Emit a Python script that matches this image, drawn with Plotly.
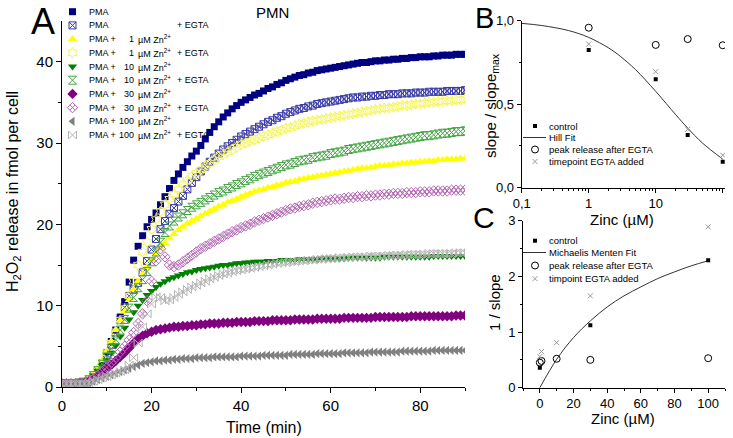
import plotly.graph_objects as go

W, H = 733, 438
FONT = "Liberation Sans, Arial, sans-serif"


def dom_x(a, b):
    return [a / W, b / W]


def dom_y(top, bottom):
    return [1 - bottom / H, 1 - top / H]


# ---------------- panel A: H2O2 release, one reading per minute ----------------
time_min = list(range(0, 91))

pma = [
    0.4, 0.4, 0.4, 0.4, 0.5, 0.6, 0.8, 1.3, 2.0, 3.0,
    4.2, 5.6, 7.0, 8.6, 10.5, 12.9, 15.6, 17.3, 18.6, 19.7,
    20.6, 21.4, 22.4, 23.4, 24.4, 25.4, 26.2, 27.0, 27.7, 28.4,
    29.0, 29.7, 30.5, 31.3, 32.0, 32.6, 33.2, 33.7, 34.2, 34.6,
    35.0, 35.3, 35.6, 35.9, 36.1, 36.4, 36.7, 36.9, 37.2, 37.4,
    37.7, 37.9, 38.1, 38.3, 38.4, 38.6, 38.7, 38.9, 39.0, 39.1,
    39.2, 39.3, 39.4, 39.5, 39.6, 39.7, 39.8, 39.9, 39.9, 40.0,
    40.1, 40.1, 40.2, 40.2, 40.3, 40.3, 40.4, 40.4, 40.5, 40.5,
    40.6, 40.6, 40.6, 40.7, 40.7, 40.8, 40.8, 40.8, 40.9, 40.9, 40.9,
]
pma_egta = [
    0.4, 0.4, 0.4, 0.4, 0.5, 0.6, 0.8, 1.2, 1.9, 2.8,
    3.9, 5.2, 6.6, 8.2, 9.8, 11.2, 12.0, 12.8, 14.1, 15.5,
    16.9, 18.2, 19.4, 20.4, 21.3, 22.0, 22.8, 23.5, 24.3, 25.1,
    25.8, 26.5, 27.1, 27.7, 28.2, 28.7, 29.2, 29.6, 30.0, 30.4,
    30.8, 31.1, 31.4, 31.7, 32.0, 32.3, 32.6, 32.8, 33.1, 33.3,
    33.6, 33.8, 34.0, 34.2, 34.3, 34.5, 34.6, 34.8, 34.9, 35.0,
    35.1, 35.2, 35.3, 35.4, 35.5, 35.6, 35.6, 35.7, 35.7, 35.8,
    35.8, 35.9, 35.9, 36.0, 36.0, 36.0, 36.1, 36.1, 36.1, 36.2,
    36.2, 36.2, 36.3, 36.3, 36.3, 36.3, 36.4, 36.4, 36.4, 36.4, 36.5,
]
zn1 = [
    0.4, 0.4, 0.4, 0.4, 0.5, 0.6, 0.9, 1.5, 2.4, 3.3,
    4.4, 5.6, 7.0, 8.2, 9.3, 10.7, 12.0, 13.0, 13.9, 14.8,
    15.6, 16.4, 17.1, 17.7, 18.3, 18.8, 19.3, 19.7, 20.1, 20.4,
    20.7, 21.0, 21.3, 21.6, 21.9, 22.2, 22.4, 22.7, 22.9, 23.1,
    23.4, 23.6, 23.8, 24.0, 24.2, 24.3, 24.5, 24.6, 24.8, 24.9,
    25.1, 25.2, 25.3, 25.5, 25.6, 25.7, 25.8, 25.9, 26.0, 26.1,
    26.2, 26.3, 26.4, 26.5, 26.6, 26.7, 26.8, 26.9, 26.9, 27.0,
    27.1, 27.2, 27.2, 27.3, 27.4, 27.4, 27.5, 27.5, 27.6, 27.6,
    27.7, 27.7, 27.8, 27.8, 27.9, 27.9, 28.0, 28.0, 28.0, 28.1, 28.1,
]
zn1_egta = [
    0.4, 0.4, 0.4, 0.4, 0.5, 0.6, 0.9, 1.4, 2.2, 3.1,
    4.2, 5.4, 6.8, 8.2, 9.6, 11.2, 13.0, 15.0, 16.6, 17.8,
    19.4, 20.6, 21.6, 22.4, 23.1, 23.7, 24.3, 24.9, 25.4, 25.9,
    26.3, 26.7, 27.1, 27.5, 27.9, 28.3, 28.6, 28.9, 29.2, 29.5,
    29.8, 30.0, 30.2, 30.4, 30.6, 30.8, 31.0, 31.2, 31.4, 31.6,
    31.8, 31.9, 32.1, 32.3, 32.4, 32.6, 32.7, 32.8, 32.9, 33.0,
    33.1, 33.2, 33.3, 33.4, 33.5, 33.6, 33.7, 33.8, 33.9, 34.0,
    34.1, 34.2, 34.3, 34.3, 34.4, 34.5, 34.6, 34.6, 34.7, 34.8,
    34.8, 34.9, 35.0, 35.0, 35.1, 35.1, 35.2, 35.2, 35.3, 35.3, 35.4,
]
zn10 = [
    0.4, 0.4, 0.4, 0.4, 0.5, 0.6, 0.9, 1.4, 2.0, 2.6,
    3.3, 4.2, 5.1, 6.2, 7.3, 8.3, 9.2, 10.0, 10.7, 11.3,
    11.8, 12.3, 12.7, 13.0, 13.3, 13.5, 13.7, 13.9, 14.1, 14.2,
    14.4, 14.5, 14.6, 14.7, 14.8, 14.9, 15.0, 15.0, 15.1, 15.2,
    15.2, 15.3, 15.3, 15.4, 15.4, 15.4, 15.5, 15.5, 15.5, 15.6,
    15.6, 15.6, 15.6, 15.7, 15.7, 15.7, 15.7, 15.7, 15.8, 15.8,
    15.8, 15.8, 15.8, 15.8, 15.9, 15.9, 15.9, 15.9, 15.9, 15.9,
    15.9, 15.9, 16.0, 16.0, 16.0, 16.0, 16.0, 16.0, 16.0, 16.0,
    16.0, 16.0, 16.0, 16.1, 16.1, 16.1, 16.1, 16.1, 16.1, 16.1, 16.1,
]
zn10_egta = [
    0.4, 0.4, 0.4, 0.4, 0.5, 0.6, 0.9, 1.4, 2.0, 2.8,
    3.7, 4.7, 5.8, 7.0, 8.3, 9.7, 11.0, 12.2, 13.2, 14.2,
    15.4, 16.6, 17.8, 19.0, 19.8, 20.4, 20.9, 21.3, 21.7, 22.1,
    22.4, 22.7, 23.0, 23.3, 23.6, 23.9, 24.1, 24.4, 24.6, 24.9,
    25.1, 25.4, 25.6, 25.9, 26.1, 26.3, 26.5, 26.7, 26.9, 27.1,
    27.3, 27.4, 27.6, 27.8, 27.9, 28.0, 28.2, 28.3, 28.4, 28.5,
    28.7, 28.8, 28.9, 29.0, 29.2, 29.3, 29.4, 29.5, 29.6, 29.7,
    29.8, 29.9, 30.0, 30.1, 30.2, 30.3, 30.4, 30.5, 30.6, 30.7,
    30.8, 30.9, 30.9, 31.0, 31.1, 31.2, 31.2, 31.3, 31.4, 31.4, 31.5,
]
zn30 = [
    0.4, 0.4, 0.4, 0.4, 0.5, 0.5, 0.7, 1.0, 1.4, 1.8,
    2.2, 2.7, 3.2, 3.7, 4.2, 4.8, 5.4, 5.9, 6.3, 6.6,
    6.8, 7.0, 7.1, 7.2, 7.3, 7.4, 7.4, 7.5, 7.5, 7.6,
    7.6, 7.7, 7.7, 7.8, 7.8, 7.8, 7.9, 7.9, 7.9, 8.0,
    8.0, 8.0, 8.0, 8.1, 8.1, 8.1, 8.1, 8.2, 8.2, 8.2,
    8.2, 8.2, 8.3, 8.3, 8.3, 8.3, 8.3, 8.4, 8.4, 8.4,
    8.4, 8.4, 8.4, 8.5, 8.5, 8.5, 8.5, 8.5, 8.5, 8.5,
    8.6, 8.6, 8.6, 8.6, 8.6, 8.6, 8.6, 8.6, 8.7, 8.7,
    8.7, 8.7, 8.7, 8.7, 8.7, 8.7, 8.7, 8.7, 8.8, 8.8, 8.8,
]
zn30_egta = [
    0.4, 0.4, 0.4, 0.4, 0.5, 0.5, 0.7, 1.0, 1.4, 1.9,
    2.4, 3.0, 3.6, 4.3, 5.0, 5.8, 6.7, 7.8, 9.0, 10.6,
    13.0, 15.5, 17.0, 16.0, 15.0, 14.8, 15.0, 15.4, 15.8, 16.2,
    16.6, 17.0, 17.3, 17.6, 17.9, 18.2, 18.5, 18.8, 19.1, 19.3,
    19.6, 19.8, 20.0, 20.3, 20.5, 20.7, 20.9, 21.1, 21.3, 21.5,
    21.7, 21.9, 22.0, 22.2, 22.3, 22.4, 22.6, 22.7, 22.8, 22.9,
    23.0, 23.1, 23.1, 23.2, 23.3, 23.3, 23.4, 23.4, 23.5, 23.5,
    23.6, 23.6, 23.7, 23.7, 23.8, 23.8, 23.8, 23.9, 23.9, 23.9,
    24.0, 24.0, 24.0, 24.1, 24.1, 24.1, 24.1, 24.2, 24.2, 24.2, 24.2,
]
zn100 = [
    0.4, 0.4, 0.4, 0.4, 0.4, 0.4, 0.5, 0.7, 0.9, 1.1,
    1.3, 1.5, 1.7, 1.9, 2.1, 2.3, 2.5, 2.7, 2.9, 3.0,
    3.1, 3.2, 3.2, 3.3, 3.3, 3.4, 3.4, 3.5, 3.5, 3.5,
    3.6, 3.6, 3.6, 3.6, 3.7, 3.7, 3.7, 3.7, 3.7, 3.7,
    3.8, 3.8, 3.8, 3.8, 3.8, 3.9, 3.9, 3.9, 3.9, 3.9,
    3.9, 4.0, 4.0, 4.0, 4.0, 4.0, 4.0, 4.1, 4.1, 4.1,
    4.1, 4.1, 4.1, 4.2, 4.2, 4.2, 4.2, 4.2, 4.2, 4.3,
    4.3, 4.3, 4.3, 4.3, 4.3, 4.3, 4.4, 4.4, 4.4, 4.4,
    4.4, 4.4, 4.4, 4.5, 4.5, 4.5, 4.5, 4.5, 4.5, 4.5, 4.5,
]
zn100_egta = [
    0.4, 0.4, 0.4, 0.4, 0.4, 0.4, 0.5, 0.7, 0.9, 1.1,
    1.3, 1.5, 1.7, 1.9, 2.1, 2.7, 3.6, 5.4, 7.4, 9.0,
    10.2, 11.1, 11.0, 10.6, 10.7, 11.0, 11.4, 11.7, 12.0, 12.3,
    12.5, 12.8, 13.0, 13.3, 13.5, 13.7, 13.9, 14.0, 14.2, 14.3,
    14.4, 14.5, 14.6, 14.7, 14.8, 14.9, 15.0, 15.1, 15.2, 15.3,
    15.3, 15.4, 15.4, 15.5, 15.5, 15.6, 15.6, 15.7, 15.7, 15.8,
    15.8, 15.8, 15.9, 15.9, 15.9, 16.0, 16.0, 16.0, 16.0, 16.1,
    16.1, 16.1, 16.1, 16.2, 16.2, 16.2, 16.2, 16.3, 16.3, 16.3,
    16.3, 16.3, 16.4, 16.4, 16.4, 16.4, 16.4, 16.4, 16.5, 16.5, 16.5,
]

legend_prefix = ["PMA", "PMA", "PMA +", "PMA +", "PMA +", "PMA +", "PMA +", "PMA +", "PMA +", "PMA +"]
legend_conc = ["", "", "1", "1", "10", "10", "30", "30", "100", "100"]
legend_egta = [False, True, False, True, False, True, False, True, False, True]

series_a = [pma, pma_egta, zn1, zn1_egta, zn10, zn10_egta, zn30, zn30_egta, zn100, zn100_egta]
for s in series_a:
    assert len(s) == len(time_min)

# marker style per series (symbol, colour, size, outline width)
styles_a = [
    ("square", "#000080", 7, 0),
    ("square-x-open", "#3a3aa6", 7, 1),
    ("triangle-up", "#ffff00", 8, 0),
    ("hexagram-open", "#f5f55a", 8, 1),
    ("triangle-down", "#008000", 8, 0),
    ("hourglass-open", "#44a444", 8, 1),
    ("diamond", "#800080", 8, 0),
    ("diamond-x-open", "#b466b4", 8, 1),
    ("triangle-left", "#808080", 8, 0),
    ("bowtie-open", "#b4b4b4", 8, 1),
]

# ---------------- panel B: slope / slope_max vs zinc ----------------
zinc_b = [1, 10, 30, 100]
control_b = [0.825, 0.65, 0.315, 0.156]
peak_b = [0.958, 0.855, 0.89, 0.853]
timepoint_b = [0.86, 0.695, 0.35, 0.195]
hill_x = [0.1, 0.2, 0.5, 1, 2, 3, 5, 10, 20, 30, 50, 100]
hill_y = [0.984, 0.971, 0.941, 0.900, 0.836, 0.785, 0.707, 0.577, 0.436, 0.357, 0.267, 0.171]

# ---------------- panel C: 1 / slope vs zinc ----------------
zinc_c_control = [0, 30, 100]
control_c = [0.36, 1.12, 2.29]
zinc_c = [0, 1, 10, 30, 100]
peak_c = [0.45, 0.48, 0.52, 0.50, 0.53]
timepoint_c = [0.56, 0.65, 0.81, 1.65, 2.89]
mm_x = [0, 10, 20, 30, 40, 50, 60, 70, 80, 90, 100]
mm_y = [0, 0.51, 0.90, 1.20, 1.45, 1.65, 1.81, 1.96, 2.08, 2.19, 2.28]

fig = go.Figure()

for vals, st in zip(series_a, styles_a):
    sym, col, size, lw = st
    fig.add_trace(go.Scatter(
        x=time_min, y=vals, mode="markers", xaxis="x", yaxis="y",
        marker=dict(symbol=sym, color=col, size=size, line=dict(color=col, width=lw)),
        showlegend=False,
    ))

# panel B
fig.add_trace(go.Scatter(x=hill_x, y=hill_y, mode="lines", line=dict(color="#333333", width=1, shape="spline"),
                         xaxis="x2", yaxis="y2", showlegend=False))
fig.add_trace(go.Scatter(x=zinc_b, y=control_b, mode="markers", marker=dict(symbol="square", size=4, color="black"),
                         xaxis="x2", yaxis="y2", showlegend=False))
fig.add_trace(go.Scatter(x=zinc_b, y=peak_b, mode="markers",
                         marker=dict(symbol="circle-open", size=7, color="black", line=dict(width=1)),
                         xaxis="x2", yaxis="y2", showlegend=False))
fig.add_trace(go.Scatter(x=zinc_b, y=timepoint_b, mode="markers",
                         marker=dict(symbol="x-thin-open", size=5, color="#999999", line=dict(width=1, color="#999999")),
                         xaxis="x2", yaxis="y2", showlegend=False))

# panel C
fig.add_trace(go.Scatter(x=mm_x, y=mm_y, mode="lines", line=dict(color="#333333", width=1, shape="spline"),
                         xaxis="x3", yaxis="y3", showlegend=False))
fig.add_trace(go.Scatter(x=zinc_c_control, y=control_c, mode="markers", marker=dict(symbol="square", size=4, color="black"),
                         xaxis="x3", yaxis="y3", showlegend=False))
fig.add_trace(go.Scatter(x=zinc_c, y=peak_c, mode="markers",
                         marker=dict(symbol="circle-open", size=7, color="black", line=dict(width=1)),
                         xaxis="x3", yaxis="y3", showlegend=False))
fig.add_trace(go.Scatter(x=zinc_c, y=timepoint_c, mode="markers",
                         marker=dict(symbol="x-thin-open", size=5, color="#999999", line=dict(width=1, color="#999999")),
                         xaxis="x3", yaxis="y3", showlegend=False))

# ---------------- hand-made legends on a pixel overlay (x4/y4, screen pixels) ----------------
annotations = []


def text(x, y, s, size=9.5, anchor="left", angle=0):
    annotations.append(dict(x=x, y=y, xref="x4", yref="y4", text=s, showarrow=False,
                            xanchor=anchor, yanchor="middle", textangle=angle, borderpad=0,
                            font=dict(family=FONT, size=size, color="black")))


leg_y0, leg_dy = 11.7, 13.7
for i, (pre, conc, egta, st) in enumerate(zip(legend_prefix, legend_conc, legend_egta, styles_a)):
    sym, col, size, lw = st
    yy = leg_y0 + i * leg_dy
    fig.add_trace(go.Scatter(x=[72.5], y=[yy], mode="markers", xaxis="x4", yaxis="y4", showlegend=False,
                             marker=dict(symbol=sym, color=col, size=size, line=dict(color=col, width=lw)),
                             cliponaxis=False))
    text(87.5, yy, pre, size=9)
    if conc:
        text(134.5, yy, conc, size=9, anchor="right")
        text(136.5, yy, "µM Zn<sup>2+</sup>", size=9)
    if egta:
        text(175.5, yy, "+ EGTA", size=9)


def small_legend(y_rows, fit_label, time_label):
    x_mark, x_text = 535, 548
    fig.add_trace(go.Scatter(x=[x_mark], y=[y_rows[0]], mode="markers", xaxis="x4", yaxis="y4", showlegend=False,
                             marker=dict(symbol="square", size=4, color="black")))
    fig.add_trace(go.Scatter(x=[523, 546], y=[y_rows[1], y_rows[1]], mode="lines", xaxis="x4", yaxis="y4",
                             showlegend=False, line=dict(color="#333333", width=1)))
    fig.add_trace(go.Scatter(x=[x_mark], y=[y_rows[2]], mode="markers", xaxis="x4", yaxis="y4", showlegend=False,
                             marker=dict(symbol="circle-open", size=7, color="black", line=dict(width=1))))
    fig.add_trace(go.Scatter(x=[x_mark], y=[y_rows[3]], mode="markers", xaxis="x4", yaxis="y4", showlegend=False,
                             marker=dict(symbol="x-thin-open", size=5, color="#999999",
                                         line=dict(width=1, color="#999999"))))
    for yy, s in zip(y_rows, ["control", fit_label, "peak release after EGTA", time_label]):
        text(x_text, yy, s, size=9.5)


small_legend([126, 137.5, 149.5, 161.5], "Hill Fit", "timepoint EGTA added")
small_legend([240.7, 252.5, 265.5, 278.7], "Michaelis Menten Fit", "timpoint EGTA added")

# panel letters, titles
text(43, 21, "A", size=36, anchor="center")
text(484, 18, "B", size=29, anchor="center")
text(484, 217, "C", size=30, anchor="center")
text(272, 12, "PMN", size=15, anchor="center")
text(264, 427, "Time (min)", size=16, anchor="center")
text(13, 192, "H<sub>2</sub>O<sub>2</sub> release in fmol per cell", size=16, anchor="center", angle=-90)
text(622, 219, "Zinc (µM)", size=15, anchor="center")
text(623, 418, "Zinc (µM)", size=15, anchor="center")
text(491, 106, "slope / slope<sub>max</sub>", size=15, anchor="center", angle=-90)
text(494, 303, "1 / slope", size=15, anchor="center", angle=-90)

axis_common = dict(showline=True, linecolor="black", linewidth=1, ticks="outside", ticklen=5, tickwidth=1,
                   tickcolor="black", showgrid=False, zeroline=False, mirror=False, automargin=False,
                   tickfont=dict(family=FONT, size=15, color="black"))
small_axis = dict(axis_common, tickfont=dict(family=FONT, size=13, color="black"), ticklen=4)

log_minor = [v * m for v in (0.1, 1, 10) for m in range(2, 10)]

fig.update_layout(
    template="none",
    width=W, height=H, autosize=False,
    margin=dict(l=0, r=0, t=0, b=0, pad=0),
    paper_bgcolor="white", plot_bgcolor="rgba(0,0,0,0)",
    showlegend=False,
    xaxis=dict(axis_common, domain=dom_x(62, 465), range=[0, 90], anchor="y",
               tickvals=[0, 20, 40, 60, 80], minor=dict(ticks="outside", ticklen=3, tickvals=[10, 30, 50, 70, 90])),
    yaxis=dict(axis_common, domain=dom_y(21, 387), range=[0, 45], anchor="x",
               tickvals=[0, 10, 20, 30, 40], minor=dict(ticks="outside", ticklen=3, tickvals=[5, 15, 25, 35])),
    xaxis2=dict(small_axis, type="log", domain=dom_x(521.7, 725), range=[-1, 2.034], anchor="y2",
                tickvals=[0.1, 1, 10, 100], ticktext=["0,1", "1", "10", "100"],
                minor=dict(ticks="outside", ticklen=2, tickvals=log_minor)),
    yaxis2=dict(small_axis, domain=dom_y(20.7, 187.7), range=[0, 1.0], anchor="x2",
                tickvals=[0, 0.5, 1.0], ticktext=["0,0", "0,5", "1,0"],
                minor=dict(ticks="outside", ticklen=2, tickvals=[0.25, 0.75])),
    xaxis3=dict(small_axis, domain=dom_x(523, 725), range=[-10, 110], anchor="y3",
                tickvals=[0, 20, 40, 60, 80, 100],
                minor=dict(ticks="outside", ticklen=2, tickvals=[-10, 10, 30, 50, 70, 90, 110])),
    yaxis3=dict(small_axis, domain=dom_y(220.7, 387.7), range=[0, 3], anchor="x3",
                tickvals=[0, 1, 2, 3], minor=dict(ticks="outside", ticklen=2, tickvals=[0.5, 1.5, 2.5])),
    xaxis4=dict(domain=[0, 1], range=[0, W], visible=False, anchor="y4", fixedrange=True, automargin=False),
    yaxis4=dict(domain=[0, 1], range=[H, 0], visible=False, anchor="x4", fixedrange=True, automargin=False),
    annotations=annotations,
)

# drop the browser's default 8 px page margin so the figure fills the window
fig.write_html("out.html", config={"displayModeBar": False},
               post_script="document.body.style.margin = '0';")
